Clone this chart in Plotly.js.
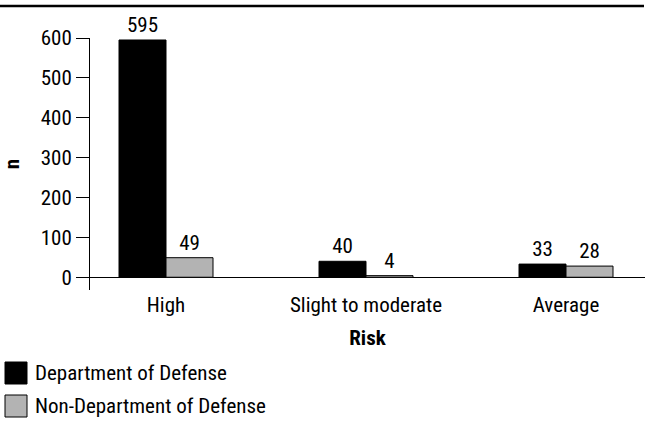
<!DOCTYPE html>
<html><head><meta charset="utf-8">
<script src="https://cdn.plot.ly/plotly-3.0.1.min.js"></script>
<style>html,body{margin:0;padding:0;background:#fff}#chart{width:645px;height:421px}</style>
</head><body><div id="chart"></div>
<script>
var categories = ["High", "Slight to moderate", "Average"];
var dodValues = [595, 40, 33];
var nonDodValues = [49, 4, 28];
var seriesNames = ["Department of Defense", "Non-Department of Defense"];
var yTicks = [0, 100, 200, 300, 400, 500, 600];

var FONT = '"Liberation Sans Narrow", "Roboto Condensed", "Arial Narrow", Roboto, sans-serif';
var FS = 21;
var colors = ["#000000", "#b3b3b3"];

var W = 645, H = 421, L = 90, R = 0, T = 38, B = 131;
var pw = W - L - R, ph = H - T - B;
function px(x) { return (x - L) / pw; }
function py(y) { return (H - B - y) / ph; }

function mk(vals, i) {
  return {
    type: 'bar', x: categories, y: vals, name: seriesNames[i],
    marker: {color: colors[i], line: {color: '#000', width: 1}},
    text: vals.map(String), textposition: 'outside', cliponaxis: false,
    textfont: {family: FONT, size: FS, color: '#000'},
    hoverinfo: 'none'
  };
}

var shapes = [
  {type: 'line', xref: 'paper', yref: 'paper', x0: px(0), x1: px(644), y0: py(6), y1: py(6), line: {color: '#000', width: 2.5}}
];
var annotations = [];
var legY = [373, 406];
for (var i = 0; i < 2; i++) {
  shapes.push({type: 'rect', xref: 'paper', yref: 'paper', x0: px(5), x1: px(27), y0: py(legY[i] - 11), y1: py(legY[i] + 11),
    fillcolor: colors[i], line: {color: '#000', width: 1}});
  annotations.push({xref: 'paper', yref: 'paper', x: px(33), y: py(legY[i]), xanchor: 'left', yanchor: 'middle',
    text: seriesNames[i], showarrow: false, font: {family: FONT, size: FS, color: '#000'}});
}

var layout = {
  width: W, height: H,
  margin: {l: L, r: R, t: T, b: B, pad: 0},
  paper_bgcolor: '#fff', plot_bgcolor: '#fff',
  font: {family: FONT, size: FS, color: '#000'},
  showlegend: false,
  barmode: 'group', bargap: 0.53, bargroupgap: 0,
  xaxis: {
    range: [-0.38, 2.395], showline: false, showgrid: false, zeroline: false, ticks: '',
    tickfont: {family: FONT, size: FS, color: '#000'},
    title: {text: '<b>Risk</b>', font: {family: FONT, size: FS, color: '#000'}, standoff: 14}
  },
  yaxis: {
    range: [-32, 600], tickvals: yTicks, ticktext: yTicks.map(String),
    showline: true, linecolor: '#000', linewidth: 1,
    ticks: 'outside', ticklen: 13, tickcolor: '#000', tickwidth: 1,
    showgrid: false, zeroline: true, zerolinecolor: '#000', zerolinewidth: 1,
    tickfont: {family: FONT, size: FS, color: '#000'},
    title: {text: '<b>n</b>', font: {family: FONT, size: FS, color: '#000'}, standoff: 16}
  },
  shapes: shapes, annotations: annotations
};

Plotly.newPlot('chart', [mk(dodValues, 0), mk(nonDodValues, 1)], layout, {staticPlot: true, displayModeBar: false});
</script></body></html>
